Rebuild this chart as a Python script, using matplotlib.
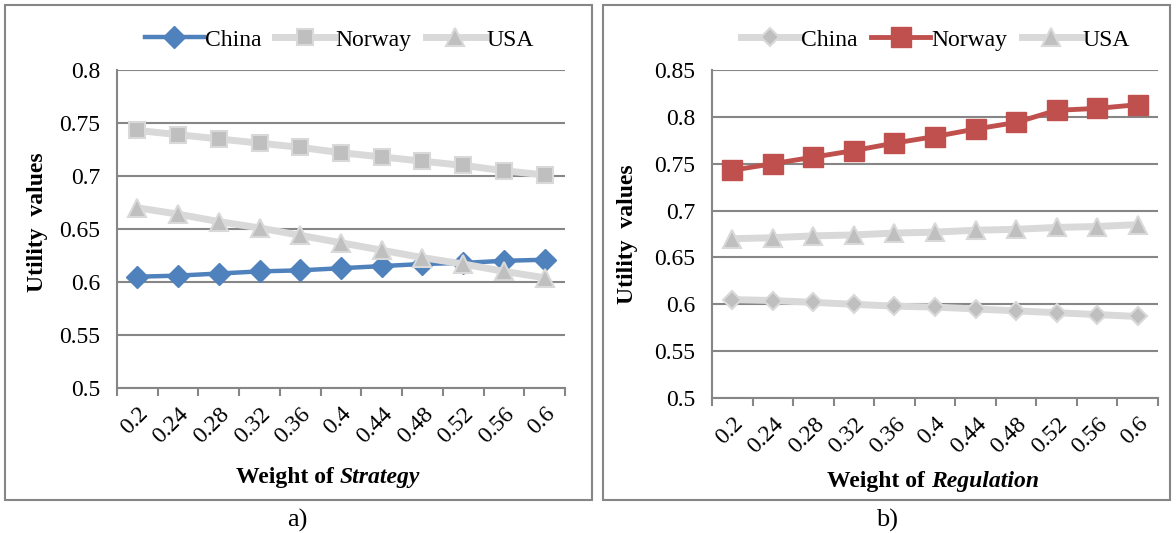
import matplotlib
matplotlib.use("Agg")
import matplotlib.pyplot as plt
from matplotlib.patches import Rectangle

plt.rcParams['font.family'] = ['Liberation Serif', 'DejaVu Serif']

# data
weights = ['0.2', '0.24', '0.28', '0.32', '0.36', '0.4', '0.44', '0.48', '0.52', '0.56', '0.6']

strat_china = [0.605, 0.606, 0.608, 0.610, 0.611, 0.613, 0.615, 0.617, 0.618, 0.620, 0.621]
strat_norway = [0.743, 0.739, 0.735, 0.731, 0.727, 0.722, 0.718, 0.714, 0.710, 0.705, 0.701]
strat_usa = [0.670, 0.664, 0.657, 0.651, 0.644, 0.637, 0.630, 0.623, 0.617, 0.610, 0.604]

reg_china = [0.605, 0.604, 0.602, 0.600, 0.598, 0.597, 0.595, 0.593, 0.591, 0.589, 0.587]
reg_norway = [0.743, 0.750, 0.757, 0.764, 0.772, 0.779, 0.787, 0.794, 0.807, 0.809, 0.813]
reg_usa = [0.670, 0.671, 0.673, 0.674, 0.676, 0.677, 0.679, 0.680, 0.682, 0.683, 0.685]

BLUE = '#4F81BD'
RED = '#C0504D'
LGRAY = '#D9D9D9'
MGRAY = '#BFBFBF'
AXGRAY = '#868686'

W, H = 1176, 533
fig = plt.figure(figsize=(W / 100, H / 100), dpi=100)
fig.patch.set_facecolor('white')


def fx(px):
    return px / W


def fy(py):
    return 1 - py / H


# panel frames
for x0, x1 in [(5, 592), (603, 1170)]:
    fig.patches.append(Rectangle((fx(x0), fy(500)), fx(x1 - x0), (500 - 5) / H,
                                 transform=fig.transFigure, fill=False,
                                 edgecolor=AXGRAY, lw=1.5))


def style_axes(ax, ymin, ymax):
    x = range(len(weights))
    ax.set_xlim(-0.5, len(weights) - 0.5)
    ax.set_ylim(ymin, ymax)
    ax.set_xticks(list(x))
    ax.set_xticklabels(weights, rotation=45, ha='right', va='top',
                       rotation_mode='anchor', fontsize=17)
    ax.set_xticks([i - 0.5 for i in range(len(weights) + 1)], minor=True)
    ax.tick_params(axis='x', which='major', length=0, pad=11)
    ax.tick_params(axis='x', which='minor', length=6, width=1.5, color=AXGRAY)
    ax.tick_params(axis='y', length=0, labelsize=17, pad=12)
    ax.grid(axis='y', color=AXGRAY, lw=1.5)
    ax.set_axisbelow(True)
    for s in ['top', 'right']:
        ax.spines[s].set_visible(False)
    for s in ['left', 'bottom']:
        ax.spines[s].set_color(AXGRAY)
        ax.spines[s].set_linewidth(1.5)


# a) Strategy
ax1 = fig.add_axes([fx(117), fy(388), fx(565 - 117), (388 - 70) / H])
x = list(range(len(weights)))
ax1.plot(x, strat_china, color=BLUE, lw=3.2, marker='D', ms=11, mfc=BLUE, mec=BLUE, label='China')
ax1.plot(x, strat_norway, color=LGRAY, lw=5, marker='s', ms=12, mfc=MGRAY, mec=LGRAY, mew=1.5, label='Norway')
ax1.plot(x, strat_usa, color=LGRAY, lw=5, marker='^', ms=13, mfc=MGRAY, mec=LGRAY, mew=1.5, label='USA')
style_axes(ax1, 0.5, 0.8)
ax1.set_yticks([0.5, 0.55, 0.6, 0.65, 0.7, 0.75, 0.8])
ax1.set_yticklabels(['0.5', '0.55', '0.6', '0.65', '0.7', '0.75', '0.8'])
ax1.legend(loc='center', bbox_to_anchor=(fx(339), fy(40)), bbox_transform=fig.transFigure,
           ncol=3, frameon=False, fontsize=17, handlelength=2.5, handletextpad=0.05,
           columnspacing=0.6)

# b) Regulation
ax2 = fig.add_axes([fx(712), fy(398), fx(1158 - 712), (398 - 70) / H])
ax2.plot(x, reg_china, color=LGRAY, lw=5, marker='D', ms=9, mfc=MGRAY, mec=LGRAY, mew=1.5, label='China')
ax2.plot(x, reg_norway, color=RED, lw=3.5, marker='s', ms=14, mfc=RED, mec=RED, label='Norway')
ax2.plot(x, reg_usa, color=LGRAY, lw=5, marker='^', ms=13, mfc=MGRAY, mec=LGRAY, mew=1.5, label='USA')
style_axes(ax2, 0.5, 0.85)
ax2.set_yticks([0.5, 0.55, 0.6, 0.65, 0.7, 0.75, 0.8, 0.85])
ax2.set_yticklabels(['0.5', '0.55', '0.6', '0.65', '0.7', '0.75', '0.8', '0.85'])
ax2.legend(loc='center', bbox_to_anchor=(fx(935), fy(40)), bbox_transform=fig.transFigure,
           ncol=3, frameon=False, fontsize=17, handlelength=2.5, handletextpad=0.05,
           columnspacing=0.6)

# axis titles
fig.text(fx(38), fy(222), 'Utility  values', rotation=90, fontsize=17, fontweight='bold',
         ha='center', va='center')
fig.text(fx(627), fy(234), 'Utility  values', rotation=90, fontsize=17, fontweight='bold',
         ha='center', va='center')

fig.text(fx(340), fy(477), 'Weight of ', fontsize=17, fontweight='bold', ha='right', va='center')
fig.text(fx(340), fy(477), 'Strategy', fontsize=17, fontweight='bold', style='italic',
         ha='left', va='center')
fig.text(fx(931), fy(481), 'Weight of ', fontsize=17, fontweight='bold', ha='right', va='center')
fig.text(fx(931), fy(481), 'Regulation', fontsize=17, fontweight='bold', style='italic',
         ha='left', va='center')

fig.text(fx(297), fy(520), 'a)', fontsize=19, ha='center', va='center')
fig.text(fx(887), fy(520), 'b)', fontsize=19, ha='center', va='center')

plt.savefig('out.png', dpi=100, facecolor='white')
plt.close()
